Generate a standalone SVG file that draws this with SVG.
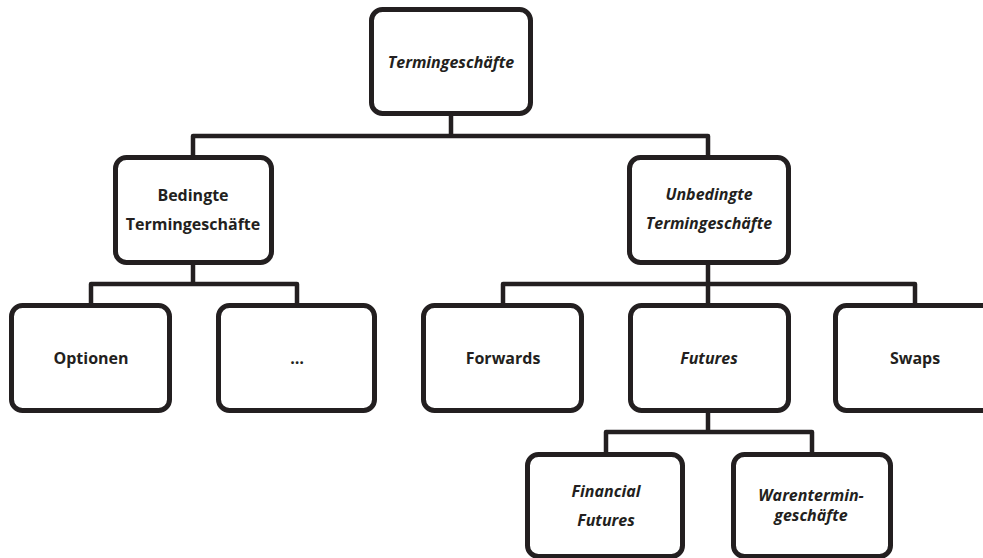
<svg xmlns="http://www.w3.org/2000/svg" width="983" height="558" viewBox="0 0 983 558">
<style>
.box{fill:#ffffff;stroke:#231f20;stroke-width:5}
.con{fill:none;stroke:#231f20;stroke-width:4.5;stroke-linejoin:round}
text{font-family:"Open Sans","Noto Sans","Liberation Sans",sans-serif;font-size:16px;font-weight:700;fill:#231f20;text-anchor:middle}
.it{font-style:italic}
</style>
<rect width="983" height="558" fill="#ffffff"/>
<g id="connectors">
<path class="con" d="M451,116 V136 M193,155 V136 H708 V155"/>
<path class="con" d="M193,265 V284 M91,303 V284 H297 V303"/>
<path class="con" d="M708,265 V303 M503,303 V284 H915 V303"/>
<path class="con" d="M708,413 V432 M606,452 V432 H812 V452"/>
</g>
<g id="n-termingeschaefte">
<rect class="box" x="371.5" y="9.5" width="159" height="104" rx="11"/>
<text class="it" x="451" y="68">Termingeschäfte</text>
</g>
<g id="n-bedingte">
<rect class="box" x="115.5" y="157.5" width="156" height="105" rx="11"/>
<text x="193" y="201">Bedingte</text>
<text x="193" y="230">Termingeschäfte</text>
</g>
<g id="n-unbedingte">
<rect class="box" x="629.5" y="157.5" width="159" height="105" rx="11"/>
<text class="it" x="709" y="200">Unbedingte</text>
<text class="it" x="709" y="229">Termingeschäfte</text>
</g>
<g id="n-optionen">
<rect class="box" x="11.5" y="305.5" width="158" height="105" rx="11"/>
<text x="91" y="364">Optionen</text>
</g>
<g id="n-etc">
<rect class="box" x="218.5" y="305.5" width="156" height="105" rx="11"/>
<text x="297" y="364">…</text>
</g>
<g id="n-forwards">
<rect class="box" x="423.5" y="305.5" width="158" height="105" rx="11"/>
<text x="503" y="364">Forwards</text>
</g>
<g id="n-futures">
<rect class="box" x="630.5" y="305.5" width="158" height="105" rx="11"/>
<text class="it" x="709" y="364">Futures</text>
</g>
<g id="n-swaps">
<rect class="box" x="835.5" y="305.5" width="160" height="105" rx="11"/>
<text x="915" y="364">Swaps</text>
</g>
<g id="n-financial">
<rect class="box" x="527.5" y="454.5" width="155" height="102" rx="11"/>
<text class="it" x="606" y="497">Financial</text>
<text class="it" x="606" y="526">Futures</text>
</g>
<g id="n-waren">
<rect class="box" x="733.5" y="454.5" width="157" height="102" rx="11"/>
<text class="it" x="811" y="501">Warentermin-</text>
<text class="it" x="811" y="521">geschäfte</text>
</g>
</svg>
